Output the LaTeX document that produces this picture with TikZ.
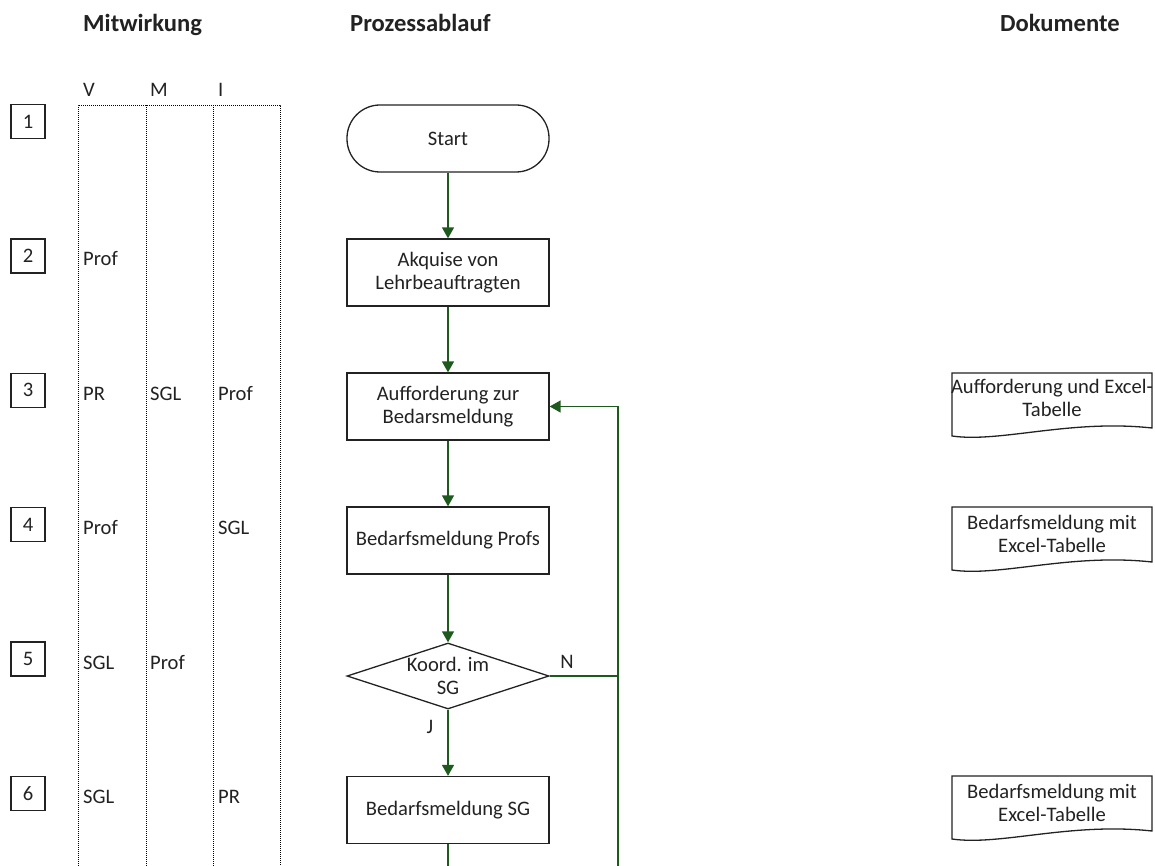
\documentclass[tikz,border=0pt]{standalone}
\usepackage{fontspec}
\setmainfont{Carlito}
\usetikzlibrary{arrows.meta,shapes.geometric}
\definecolor{flowgreen}{HTML}{1E5A1E}
\definecolor{inkgray}{HTML}{222222}
\newcommand\myBody{\fontsize{20.6}{23}\selectfont}
\newcommand\myHead{\fontsize{24.6}{28}\selectfont\bfseries}
\begin{document}
\begin{tikzpicture}[x=1pt,y=-1pt,
  flowbox/.style={draw=inkgray, line width=1.3pt, minimum width=202pt, minimum height=67pt, inner sep=0pt, align=center, font=\myBody, text=inkgray},
  termbox/.style={flowbox, rounded corners=33pt},
  decbox/.style={draw=inkgray, line width=1.3pt, diamond, minimum width=202pt, minimum height=66pt, inner sep=0pt},
  numbox/.style={draw=inkgray, line width=1.3pt, minimum width=34pt, minimum height=34pt, inner sep=0pt, font=\myBody, text=inkgray},
  lbl/.style={font=\myBody, text=inkgray, inner sep=0pt, anchor=base west},
  head/.style={font=\myHead, text=inkgray, inner sep=0pt, anchor=base west},
  doctext/.style={font=\myBody, text=inkgray, inner sep=0pt, align=center},
  docline/.style={draw=inkgray, line width=1.3pt},
  colline/.style={draw=black, line width=0.8pt, dash pattern=on 1pt off 1pt},
  flowline/.style={draw=flowgreen, line width=1.4pt},
  flowarrow/.style={flowline, -{Triangle[length=11pt,width=12pt]}}
]
\useasboundingbox (0,0) rectangle (1155,866);

% headers
\node[head] (hMit) at (83,32) {Mitwirkung};
\node[head] (hPro) at (350,32) {Prozessablauf};
\node[head] (hDok) at (1000,32) {Dokumente};

% V M I columns
\node[lbl] (cV) at (83,97) {V};
\node[lbl] (cM) at (150,97) {M};
\node[lbl] (cI) at (218,97) {I};
\draw[colline] (78,866) -- (78,105) -- (280,105) -- (280,866);
\draw[colline] (146,105) -- (146,866);
\draw[colline] (213,105) -- (213,866);

% row numbers
\foreach \i in {1,...,6} {
  \node[numbox] (n\i) at (28, {121.5+134.4*(\i-1)}) {\i};
}

% participation labels
\node[lbl] (r2v) at (83,266) {Prof};
\node[lbl] (r3v) at (83,400) {PR};
\node[lbl] (r3m) at (150,400) {SGL};
\node[lbl] (r3i) at (218,400) {Prof};
\node[lbl] (r4v) at (83,534) {Prof};
\node[lbl] (r4i) at (218,534) {SGL};
\node[lbl] (r5v) at (83,669) {SGL};
\node[lbl] (r5m) at (150,669) {Prof};
\node[lbl] (r6v) at (83,803) {SGL};
\node[lbl] (r6i) at (218,803) {PR};

% process
\node[termbox] (start) at (448,138.5) {Start};
\node[flowbox] (akq) at (448,272.5) {Akquise von\\Lehrbeauftragten};
\node[flowbox] (auf) at (448,406.5) {Aufforderung zur\\Bedarsmeldung};
\node[flowbox] (bprof) at (448,540.5) {Bedarfsmeldung Profs};
\node[decbox] (dec) at (448,676) {};
\node[font=\myBody, text=inkgray, align=center, inner sep=0pt] (dectext) at (448,676) {Koord. im\\SG};
\node[flowbox] (bsg) at (448,810) {Bedarfsmeldung SG};

\coordinate (fbb) at (618,866);
\coordinate (bottom) at (448,866);

\draw[flowarrow] (start) -- (akq);
\draw[flowarrow] (akq) -- (auf);
\draw[flowarrow] (auf) -- (bprof);
\draw[flowarrow] (bprof) -- (dec);
\draw[flowarrow] (dec) -- (bsg);
\draw[flowline] (bsg) -- (bottom);
\draw[flowline] (dec.east) -- (dec.east -| fbb);
\draw[flowarrow] (fbb) |- (auf.east);

\node[font=\myBody, text=inkgray, inner sep=0pt] (lN) at (567,662) {N};
\node[font=\myBody, text=inkgray, inner sep=0pt] (lJ) at (430,727) {J};

% documents
\foreach \t/\nm in {373/d1,507/d2,776/d3} {
  \draw[docline] (952,\t) -- (1152,\t) -- (1152,\t+55)
     .. controls (1070,\t+46) and (1000,\t+70) .. (952,\t+63) -- cycle;
}
\node[doctext] (doc1) at (1052,398) {Aufforderung und Excel-\\Tabelle};
\node[doctext] (doc2) at (1052,534) {Bedarfsmeldung mit\\Excel-Tabelle};
\node[doctext] (doc3) at (1052,803) {Bedarfsmeldung mit\\Excel-Tabelle};
\end{tikzpicture}
\end{document}
